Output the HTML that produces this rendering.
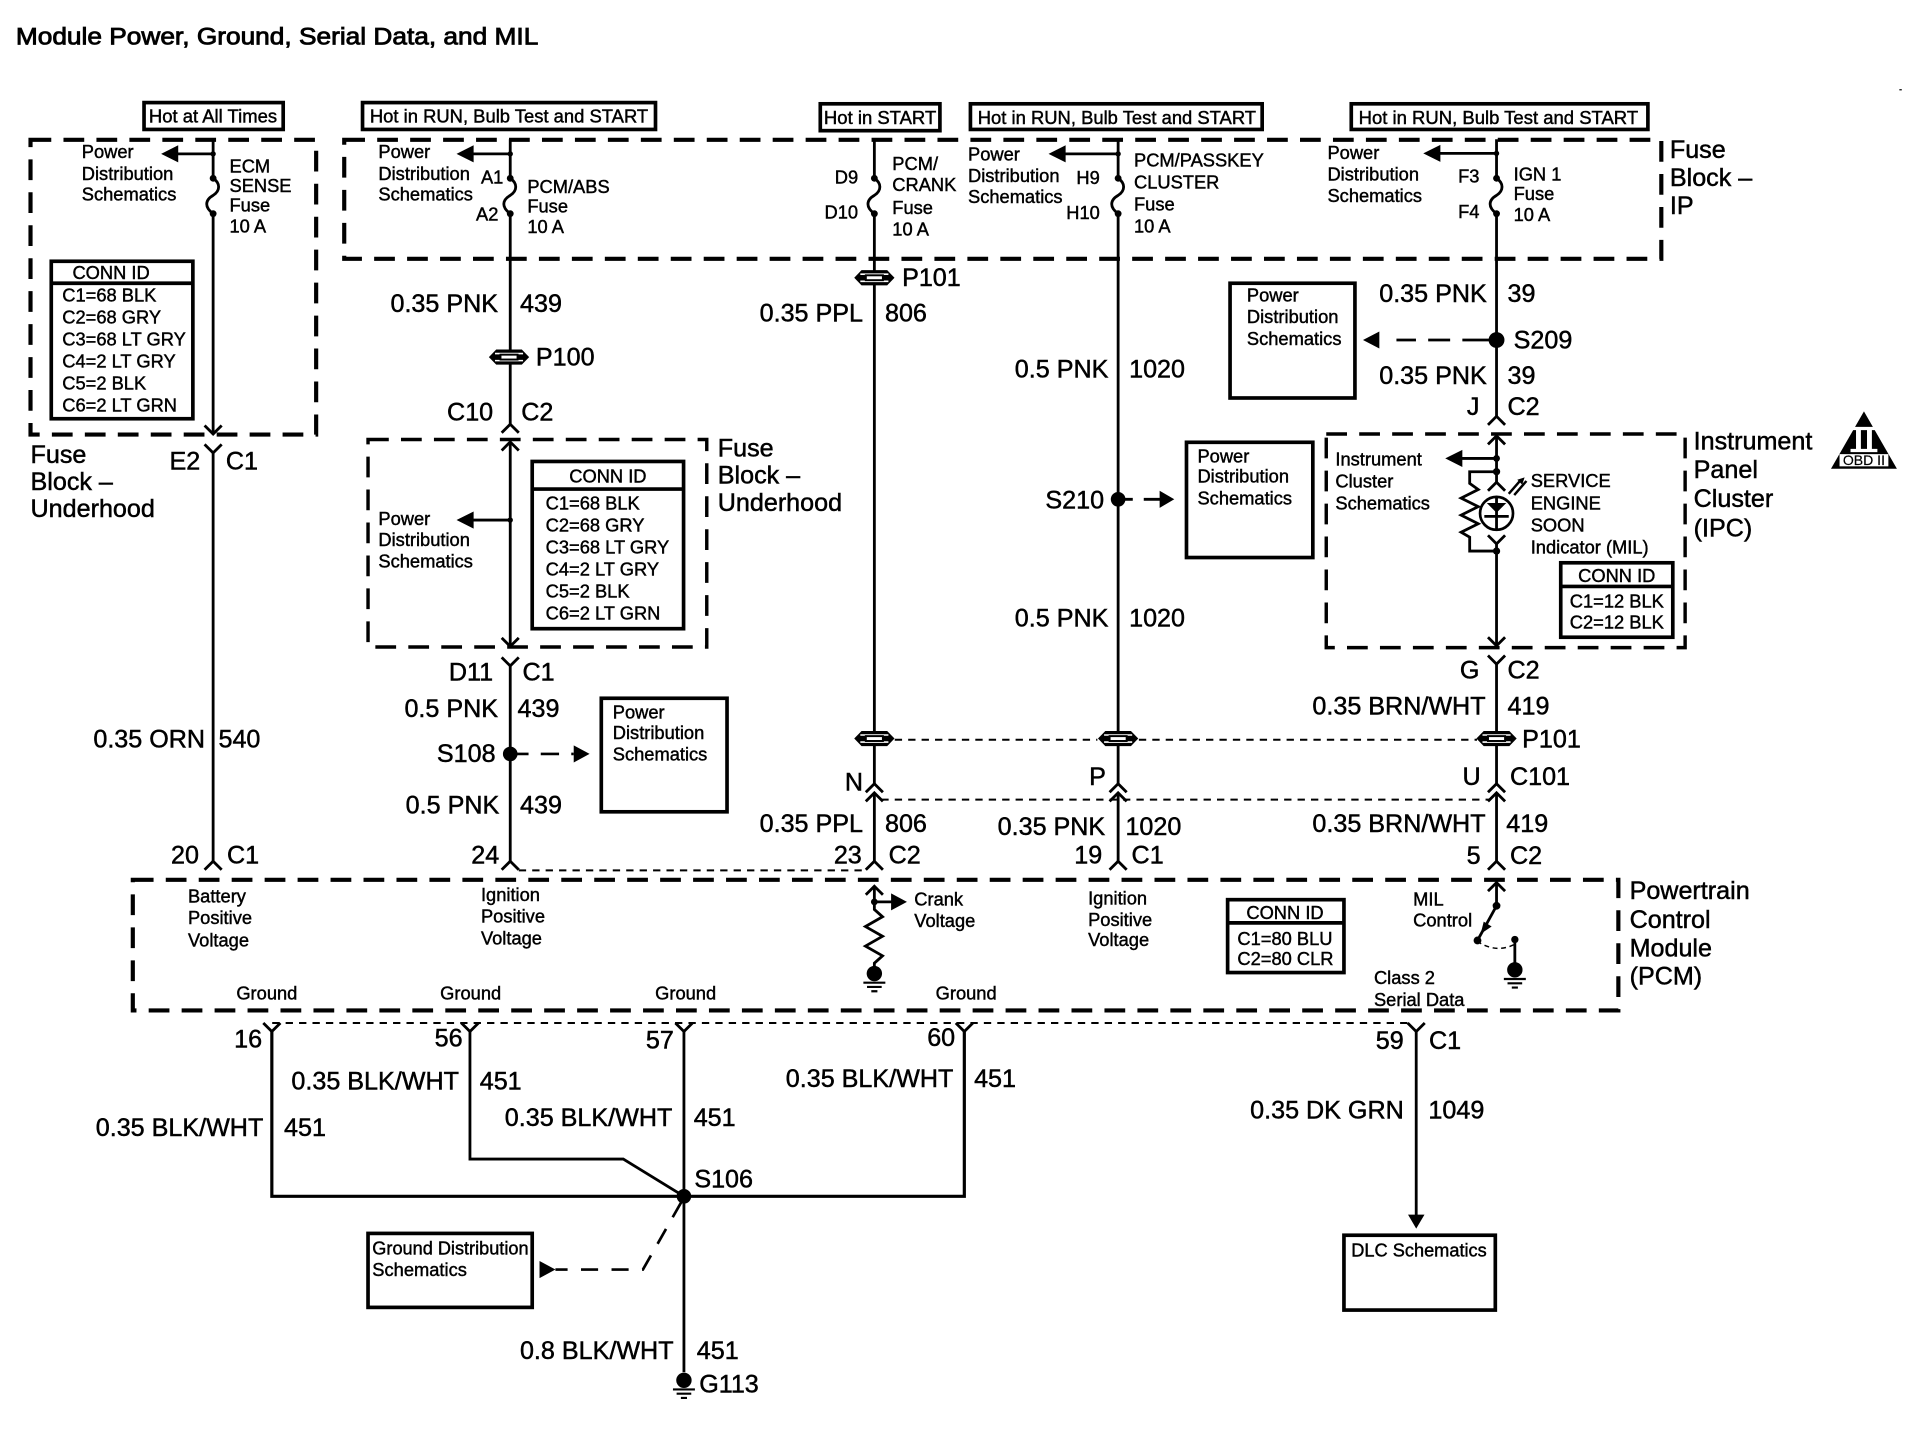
<!DOCTYPE html>
<html><head><meta charset="utf-8"><title>Module Power, Ground, Serial Data, and MIL</title>
<style>
html,body{margin:0;padding:0;background:#fff}
svg{display:block}
text{font-family:"Liberation Sans",Arial,sans-serif;fill:#000;stroke:#000;stroke-width:.35;transform:translate(0,-.6px)}
.b{font-size:20.6px;stroke-width:.4}
.s{font-size:15px}
.e{text-anchor:end}
.c{text-anchor:middle}
.w{fill:none;stroke:#000;stroke-width:2.3}
.t{fill:none;stroke:#000;stroke-width:2.6}
.d{fill:none;stroke:#000;stroke-width:3.4;stroke-dasharray:17 10}
.dn{fill:none;stroke:#000;stroke-width:1.6;stroke-dasharray:6 5}
.dm{fill:none;stroke:#000;stroke-width:2.2;stroke-dasharray:15 10}
.x{fill:none;stroke:#000;stroke-width:3}
</style></head><body>
<svg xmlns="http://www.w3.org/2000/svg" width="1914" height="1440" viewBox="0 0 1568 1179.6">
<defs>
<g id="cn"><path d="M-16.5 0L-10.5 -6.2H10.5L16.5 0L10.5 6.2H-10.5Z" fill="#000"/><path d="M-11.5 -2.9H11.5M-11.5 2.9H11.5" stroke="#fff" stroke-width="1.3"/><rect x="-7" y="-2" width="14" height="4" fill="#fff" stroke="#000" stroke-width="1.6"/></g>
<path id="up" d="M-7 7L0 0L7 7" fill="none" stroke="#000" stroke-width="2.3"/>
<path id="dn" d="M-7 -7L0 0L7 -7" fill="none" stroke="#000" stroke-width="2.3"/>
<path id="fu" d="M0 0C6 4,6 10,0 14C-7 18,-7 24,0 29" fill="none" stroke="#000" stroke-width="2.3"/>
<path id="al" d="M0 0L14 -7V7Z" fill="#000"/>
<g id="gn"><circle r="6.3" fill="#000"/><path d="M-9 7.5H9M-6 11H6M-2.5 14.5H2.5" stroke="#000" stroke-width="1.8"/></g>
</defs>

<text x="13" y="37" style="font-size:20px;stroke-width:.7" textLength="428" lengthAdjust="spacingAndGlyphs">Module Power, Ground, Serial Data, and MIL</text>
<rect x="1556" y="73" width="2" height="1" fill="#000"/>

<!-- header boxes -->
<rect class="x" x="118" y="84" width="114" height="22"/>
<text class="s" x="122" y="101" textLength="105" lengthAdjust="spacingAndGlyphs">Hot at All Times</text>
<rect class="x" x="297" y="84" width="240" height="22"/>
<text class="s" x="303" y="101" textLength="228" lengthAdjust="spacingAndGlyphs">Hot in RUN, Bulb Test and START</text>
<rect class="x" x="672" y="85" width="98" height="22"/>
<text class="s" x="675" y="102" textLength="92" lengthAdjust="spacingAndGlyphs">Hot in START</text>
<rect class="x" x="795" y="85" width="239" height="21"/>
<text class="s" x="801" y="102" textLength="228" lengthAdjust="spacingAndGlyphs">Hot in RUN, Bulb Test and START</text>
<rect class="x" x="1107" y="85" width="243" height="21"/>
<text class="s" x="1113" y="102" textLength="229" lengthAdjust="spacingAndGlyphs">Hot in RUN, Bulb Test and START</text>

<!-- dashed module boxes -->
<rect class="d" x="25" y="114.5" width="234" height="241.5"/>
<rect class="d" x="282" y="114.5" width="1079" height="97.5"/>
<rect class="d" style="stroke-width:2.8" x="301.5" y="360" width="277.5" height="170"/>
<rect class="d" style="stroke-width:2.8" x="1086.5" y="355.5" width="294" height="175"/>
<rect class="d" x="108.8" y="720.7" width="1217" height="107"/>

<!-- W1 x=174.6 -->
<path class="w" d="M174.6 114V146M174.6 175V356"/>
<use href="#fu" x="174.6" y="146"/>
<circle cx="174.6" cy="146" r="2.8"/><circle cx="174.6" cy="175" r="2.8"/><circle cx="174.6" cy="126" r="2.2"/>
<path class="w" d="M174.6 126H145"/><use href="#al" x="132" y="126"/>
<text class="s" x="67" y="130">Power</text><text class="s" x="67" y="148">Distribution</text><text class="s" x="67" y="165">Schematics</text>
<text class="s" x="188" y="142">ECM</text><text class="s" x="188" y="158">SENSE</text><text class="s" x="188" y="174">Fuse</text><text class="s" x="188" y="191">10 A</text>
<rect class="x" x="42" y="214" width="116" height="129"/><path class="x" d="M42 232H158"/>
<text class="s c" x="91" y="229">CONN ID</text>
<text class="s" x="51" y="247.5">C1=68 BLK</text><text class="s" x="51" y="265.5">C2=68 GRY</text><text class="s" x="51" y="283.5">C3=68 LT GRY</text><text class="s" x="51" y="301.5">C4=2 LT GRY</text><text class="s" x="51" y="319.5">C5=2 BLK</text><text class="s" x="51" y="337.5">C6=2 LT GRN</text>
<use href="#dn" x="174.6" y="355.5"/>
<use href="#dn" x="174.6" y="371"/>
<path class="w" d="M174.6 371V706"/>
<use href="#up" x="174.6" y="705.5"/>
<text class="b" x="25" y="380">Fuse</text><text class="b" x="25" y="402">Block –</text><text class="b" x="25" y="424">Underhood</text>
<text class="b e" x="164" y="385">E2</text><text class="b" x="185" y="385">C1</text>
<text class="b e" x="168" y="613">0.35 ORN</text><text class="b" x="179" y="613">540</text>
<text class="b e" x="163" y="708">20</text><text class="b" x="186" y="708">C1</text>

<!-- W2 x=418 -->
<path class="w" d="M418 114V146M418 175V348"/>
<use href="#fu" x="418" y="146"/>
<circle cx="418" cy="146" r="2.8"/><circle cx="418" cy="175" r="2.8"/><circle cx="418" cy="126" r="2.2"/>
<path class="w" d="M418 126H387"/><use href="#al" x="374" y="126"/>
<text class="s" x="310" y="130">Power</text><text class="s" x="310" y="148">Distribution</text><text class="s" x="310" y="165">Schematics</text>
<text class="s" x="394" y="151">A1</text><text class="s" x="390" y="181">A2</text>
<text class="s" x="432" y="158.5">PCM/ABS</text><text class="s" x="432" y="174.5">Fuse</text><text class="s" x="432" y="191.5">10 A</text>
<text class="b e" x="408" y="256">0.35 PNK</text><text class="b" x="426" y="256">439</text>
<use href="#cn" x="417" y="292.5"/><text class="b" x="439" y="300">P100</text>
<text class="b e" x="404" y="345">C10</text><text class="b" x="427" y="345">C2</text>
<use href="#up" x="418" y="347.5"/>
<use href="#up" x="418" y="362"/>
<path class="w" d="M418 362V530"/>
<use href="#dn" x="418" y="529.5"/>
<circle cx="418" cy="426" r="2.2"/><path class="w" d="M418 426H387"/><use href="#al" x="374" y="426"/>
<text class="s" x="310" y="430.5">Power</text><text class="s" x="310" y="448">Distribution</text><text class="s" x="310" y="465.5">Schematics</text>
<rect class="x" x="436" y="378" width="124" height="137"/><path class="x" d="M436 400.6H560"/>
<text class="s c" x="498" y="396">CONN ID</text>
<text class="s" x="447" y="418">C1=68 BLK</text><text class="s" x="447" y="436">C2=68 GRY</text><text class="s" x="447" y="454">C3=68 LT GRY</text><text class="s" x="447" y="472">C4=2 LT GRY</text><text class="s" x="447" y="490">C5=2 BLK</text><text class="s" x="447" y="508">C6=2 LT GRN</text>
<text class="b" x="588" y="374.5">Fuse</text><text class="b" x="588" y="396.5">Block –</text><text class="b" x="588" y="419">Underhood</text>
<use href="#dn" x="418" y="545.5"/>
<path class="w" d="M418 545V706"/>
<text class="b e" x="404" y="558">D11</text><text class="b" x="428" y="558">C1</text>
<text class="b e" x="408" y="588">0.5 PNK</text><text class="b" x="424" y="588">439</text>
<circle cx="418" cy="617.6" r="6"/>
<text class="b e" x="406" y="625">S108</text>
<path class="dm" d="M418 617.6H470"/><path d="M483 617.6L470 610.6V624.6Z"/>
<rect class="x" x="492.6" y="572" width="103" height="93"/>
<text class="s" x="502" y="589">Power</text><text class="s" x="502" y="606">Distribution</text><text class="s" x="502" y="623.5">Schematics</text>
<text class="b e" x="409" y="667">0.5 PNK</text><text class="b" x="426" y="667">439</text>
<text class="b e" x="409" y="708">24</text>
<use href="#up" x="418" y="705.5"/>
<path class="dn" d="M425 713H708"/>

<!-- W3 x=716.3 -->
<path class="w" d="M716.3 114V146M716.3 175V642"/>
<use href="#fu" x="716.3" y="146"/>
<circle cx="716.3" cy="146" r="2.8"/><circle cx="716.3" cy="175" r="2.8"/>
<text class="s e" x="703" y="151">D9</text><text class="s e" x="703" y="179.5">D10</text>
<text class="s" x="731" y="140">PCM/</text><text class="s" x="731" y="157">CRANK</text><text class="s" x="731" y="176">Fuse</text><text class="s" x="731" y="193.5">10 A</text>
<use href="#cn" x="716.3" y="227.5"/><text class="b" x="739" y="235">P101</text>
<text class="b e" x="707" y="264">0.35 PPL</text><text class="b" x="725" y="264">806</text>
<use href="#cn" x="716.3" y="605"/>
<text class="b e" x="707" y="648">N</text>
<use href="#up" x="716.3" y="642"/>
<use href="#up" x="716.3" y="649.5"/>
<path class="w" d="M716.3 650V706"/>
<text class="b e" x="707" y="682">0.35 PPL</text><text class="b" x="725" y="682">806</text>
<text class="b e" x="706" y="708">23</text><text class="b" x="728" y="708">C2</text>
<use href="#up" x="716.3" y="705.5"/>
<path class="dn" d="M733 606H899M933 606H1210"/>
<path class="dn" d="M722 655H1220"/>

<!-- W4 x=916 -->
<path class="w" d="M916 114V146M916 175V642"/>
<use href="#fu" x="916" y="146"/>
<circle cx="916" cy="146" r="2.8"/><circle cx="916" cy="175" r="2.8"/><circle cx="916" cy="126" r="2.2"/>
<path class="w" d="M916 126H872"/><use href="#al" x="859" y="126"/>
<text class="s" x="793" y="132">Power</text><text class="s" x="793" y="149.5">Distribution</text><text class="s" x="793" y="167">Schematics</text>
<text class="s e" x="901" y="151.5">H9</text><text class="s e" x="901" y="180">H10</text>
<text class="s" x="929" y="137">PCM/PASSKEY</text><text class="s" x="929" y="155">CLUSTER</text><text class="s" x="929" y="173">Fuse</text><text class="s" x="929" y="191">10 A</text>
<text class="b e" x="908" y="310">0.5 PNK</text><text class="b" x="925" y="310">1020</text>
<circle cx="916" cy="409" r="6"/>
<text class="b e" x="904.5" y="417">S210</text>
<path class="w" d="M916 409H928M937 409H952"/><path d="M962 409L950 402V416Z"/>
<rect class="x" x="972" y="362.3" width="103.5" height="94.4"/>
<text class="s" x="981" y="379.5">Power</text><text class="s" x="981" y="396">Distribution</text><text class="s" x="981" y="414">Schematics</text>
<text class="b e" x="908" y="514">0.5 PNK</text><text class="b" x="925" y="514">1020</text>
<use href="#cn" x="916" y="605"/>
<text class="b e" x="906" y="643.5">P</text>
<use href="#up" x="916" y="642"/>
<use href="#up" x="916" y="649.5"/>
<path class="w" d="M916 650V706"/>
<text class="b e" x="905.4" y="684.5">0.35 PNK</text><text class="b" x="922" y="684.5">1020</text>
<text class="b e" x="903" y="708">19</text><text class="b" x="927" y="708">C1</text>
<use href="#up" x="916" y="705.5"/>

<!-- W5 x=1226 -->
<path class="w" d="M1226 114V146M1226 175V341"/>
<use href="#fu" x="1226" y="146"/>
<circle cx="1226" cy="146" r="2.8"/><circle cx="1226" cy="175" r="2.8"/><circle cx="1226" cy="125.6" r="2.2"/>
<path class="w" d="M1226 125.6H1179"/><use href="#al" x="1166" y="125.6"/>
<text class="s" x="1087.5" y="131">Power</text><text class="s" x="1087.5" y="148.5">Distribution</text><text class="s" x="1087.5" y="166">Schematics</text>
<text class="s e" x="1212" y="150">F3</text><text class="s e" x="1212" y="179">F4</text>
<text class="s" x="1240" y="148.5">IGN 1</text><text class="s" x="1240" y="164.5">Fuse</text><text class="s" x="1240" y="181.5">10 A</text>
<text class="b" x="1368" y="130">Fuse</text><text class="b" x="1368" y="153">Block –</text><text class="b" x="1368" y="176">IP</text>
<text class="b e" x="1218" y="248">0.35 PNK</text><text class="b" x="1235" y="248">39</text>
<circle cx="1226" cy="278.5" r="6.5"/>
<text class="b" x="1240" y="286">S209</text>
<path class="w" d="M1220 278.5H1198M1188 278.5H1170M1160 278.5H1144"/><path d="M1116.6 278.5L1130 271.5V285.5Z"/>
<rect class="x" x="1007.7" y="232" width="102.3" height="94"/>
<text class="s" x="1021.5" y="247.5">Power</text><text class="s" x="1021.5" y="265">Distribution</text><text class="s" x="1021.5" y="283">Schematics</text>
<text class="b e" x="1218" y="315">0.35 PNK</text><text class="b" x="1235" y="315">39</text>
<text class="b e" x="1212" y="340.5">J</text><text class="b" x="1235" y="340.5">C2</text>
<use href="#up" x="1226" y="341"/>
<use href="#up" x="1226" y="357"/>
<path class="w" d="M1226 357V395"/>
<circle cx="1226" cy="375.5" r="2.8"/><circle cx="1226" cy="386.4" r="3"/>
<path class="w" d="M1226 375.5H1197"/><use href="#al" x="1184" y="375.5"/>
<path class="w" d="M1226 386.4H1204V396L1211 401L1197 408L1211 415L1197 422L1211 429L1197 436L1204 440V451.4H1226"/>
<use href="#up" x="1226" y="395"/>
<circle cx="1226" cy="420.5" r="13.5" fill="#fff" stroke="#000" stroke-width="2.2"/>
<path d="M1218 412H1234L1226 420Z"/>
<path class="w" d="M1226 407V434M1216 423H1236"/>
<path class="w" style="stroke-width:2" d="M1236 404.5L1246 393M1240.5 405.5L1250.5 394"/>
<path d="M1249 391L1243 393L1247 397Z"/>
<use href="#dn" x="1226" y="445.5"/>
<path class="w" d="M1226 445V529"/>
<circle cx="1226" cy="451.4" r="3"/>
<use href="#dn" x="1226" y="529"/>
<text class="s" x="1254" y="399.5">SERVICE</text><text class="s" x="1254" y="418">ENGINE</text><text class="s" x="1254" y="436">SOON</text><text class="s" x="1254" y="454">Indicator (MIL)</text>
<text class="s" x="1094" y="382">Instrument</text><text class="s" x="1094" y="400">Cluster</text><text class="s" x="1094" y="418">Schematics</text>
<rect class="x" x="1278.6" y="461" width="91.8" height="61"/><path class="x" d="M1278.6 480.4H1370.4"/>
<text class="s c" x="1324.5" y="477.3">CONN ID</text>
<text class="s" x="1286" y="498.3">C1=12 BLK</text><text class="s" x="1286" y="515.3">C2=12 BLK</text>
<text class="b" x="1387.5" y="369">Instrument</text><text class="b" x="1387.5" y="392">Panel</text><text class="b" x="1387.5" y="416">Cluster</text><text class="b" x="1387.5" y="440">(IPC)</text>
<use href="#dn" x="1226" y="544"/>
<path class="w" d="M1226 544V642"/>
<text class="b e" x="1212" y="556.5">G</text><text class="b" x="1235" y="556.5">C2</text>
<text class="b e" x="1217" y="586">0.35 BRN/WHT</text><text class="b" x="1235" y="586">419</text>
<use href="#cn" x="1226" y="605"/><text class="b" x="1247" y="613">P101</text>
<text class="b e" x="1213" y="643.5">U</text><text class="b" x="1237" y="643.5">C101</text>
<use href="#up" x="1226" y="642"/>
<use href="#up" x="1226" y="649.5"/>
<path class="w" d="M1226 650V706"/>
<text class="b e" x="1217" y="682">0.35 BRN/WHT</text><text class="b" x="1234" y="682">419</text>
<text class="b e" x="1213" y="708.5">5</text><text class="b" x="1237" y="708.5">C2</text>
<use href="#up" x="1226" y="705.5"/>

<!-- OBD -->
<path d="M1527 337L1554 384H1500Z"/>
<path d="M1516 351H1538M1516 369H1538" stroke="#fff" stroke-width="2.6"/>
<rect x="1520.5" y="351" width="4" height="18" fill="#fff"/><rect x="1529.5" y="351" width="4" height="18" fill="#fff"/>
<rect x="1507" y="372" width="40" height="10" fill="#fff"/>
<text x="1527" y="381.5" class="c" style="font-size:11.5px;stroke-width:.15">OBD II</text>

<!-- PCM -->
<text class="s" x="154" y="740">Battery</text><text class="s" x="154" y="757.5">Positive</text><text class="s" x="154" y="776">Voltage</text>
<text class="s" x="394" y="738.5">Ignition</text><text class="s" x="394" y="756.5">Positive</text><text class="s" x="394" y="774.5">Voltage</text>
<text class="s" x="193.6" y="819.5">Ground</text><text class="s" x="360.6" y="819.5">Ground</text><text class="s" x="536.7" y="819.5">Ground</text><text class="s" x="766.5" y="819.5">Ground</text>
<use href="#up" x="716.3" y="726"/>
<path class="w" d="M716.3 726V745L723 751L709 759L723 767L709 775L723 783L716.3 789V797"/>
<circle cx="716.3" cy="738.8" r="2.8"/>
<path class="w" d="M716.3 738.8H732"/><path d="M743 738.8L730 731.8V745.8Z"/>
<use href="#gn" x="716.3" y="797.5"/>
<text class="s" x="749" y="742.5">Crank</text><text class="s" x="749" y="760">Voltage</text>
<text class="s" x="891.4" y="741.5">Ignition</text><text class="s" x="891.4" y="759">Positive</text><text class="s" x="891.4" y="775.5">Voltage</text>
<rect class="x" x="1005.7" y="737" width="95.3" height="59.7"/><path class="x" d="M1005.7 756H1101"/>
<text class="s c" x="1052.7" y="753.3">CONN ID</text>
<text class="s" x="1013.7" y="774.7">C1=80 BLU</text><text class="s" x="1013.7" y="791.3">C2=80 CLR</text>
<text class="s" x="1157.7" y="742.5">MIL</text><text class="s" x="1157.7" y="759.7">Control</text>
<text class="s" x="1125.6" y="806.7">Class 2</text><text class="s" x="1125.6" y="824.8">Serial Data</text>
<use href="#up" x="1226" y="723"/>
<path class="w" d="M1226 723V742L1210.4 770.4"/>
<circle cx="1226" cy="742" r="3.2"/><circle cx="1210.4" cy="770.4" r="3.2"/>
<path d="M1213 765L1215.5 755L1222 759Z"/>
<path d="M1210 771Q1225 781 1240 774" fill="none" stroke="#000" stroke-width="1.2" stroke-dasharray="4 3"/>
<circle cx="1241" cy="769.6" r="3"/>
<path class="w" d="M1241 770V790"/>
<use href="#gn" x="1241" y="794.5"/>
<text class="b" x="1335" y="737">Powertrain</text><text class="b" x="1335" y="761">Control</text><text class="b" x="1335" y="784">Module</text><text class="b" x="1335" y="807">(PCM)</text>

<!-- lower -->
<path class="dn" d="M223 838H1155"/>
<use href="#dn" x="222.7" y="845"/><use href="#dn" x="385" y="845"/><use href="#dn" x="560.3" y="845"/><use href="#dn" x="790" y="845"/><use href="#dn" x="1160.2" y="845"/>
<path class="t" d="M222.7 845V980H790V845"/>
<path class="w" d="M385 845V949.5H510.6L560.3 980"/>
<path class="w" d="M560.3 845V1124"/>
<text class="b e" x="214.7" y="858.7">16</text><text class="b e" x="379" y="858">56</text><text class="b e" x="552" y="859.5">57</text><text class="b e" x="782.5" y="857.5">60</text>
<text class="b e" x="215.7" y="931">0.35 BLK/WHT</text><text class="b" x="232.7" y="931">451</text>
<text class="b e" x="376" y="893">0.35 BLK/WHT</text><text class="b" x="393" y="893">451</text>
<text class="b e" x="550.8" y="923">0.35 BLK/WHT</text><text class="b" x="568.3" y="923">451</text>
<text class="b e" x="781" y="891">0.35 BLK/WHT</text><text class="b" x="798" y="891">451</text>
<circle cx="560.3" cy="980" r="6"/>
<text class="b" x="568.8" y="973.5">S106</text>
<path class="dm" style="stroke-dasharray:14 11" d="M558 985L526.7 1040H455"/>
<path d="M442 1033L455 1040L442 1047Z"/>
<rect class="x" x="301.5" y="1010.4" width="134.5" height="60.6"/>
<text class="s" x="305" y="1028.3" textLength="128" lengthAdjust="spacingAndGlyphs">Ground Distribution</text><text class="s" x="305" y="1046">Schematics</text>
<text class="b e" x="551.8" y="1114">0.8 BLK/WHT</text><text class="b" x="570.8" y="1114">451</text>
<use href="#gn" x="560.3" y="1130.7"/>
<text class="b" x="572.8" y="1141.5">G113</text>
<path class="w" d="M1160.2 845V996"/>
<path d="M1160.2 1006.5L1153.5 995H1167Z"/>
<text class="b e" x="1150" y="860">59</text><text class="b" x="1170.7" y="860">C1</text>
<text class="b e" x="1150" y="917">0.35 DK GRN</text><text class="b" x="1170.2" y="917">1049</text>
<rect class="x" x="1101" y="1011.9" width="124" height="61.3"/>
<text class="s" x="1107" y="1030" textLength="111" lengthAdjust="spacingAndGlyphs">DLC Schematics</text>
</svg>
</body></html>
